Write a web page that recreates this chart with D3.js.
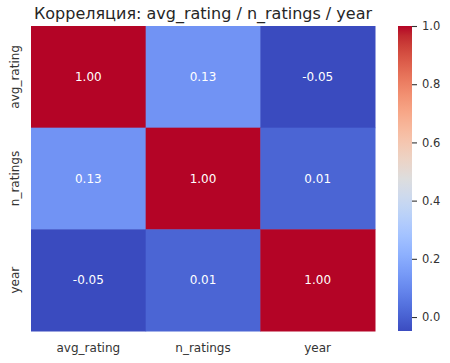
<!DOCTYPE html>
<html>
<head>
<meta charset="utf-8">
<script src="https://cdn.jsdelivr.net/npm/d3@7"></script>
<style>
  body { margin: 0; background: #fff; }
  svg { font-family: "DejaVu Sans", sans-serif; }
</style>
</head>
<body>
<svg width="450" height="363"></svg>
<script>
var variables = ["avg_rating", "n_ratings", "year"]
var corrRows = [
    [1.00, 0.13, -0.05],
    [0.13, 1.00, 0.01],
    [-0.05, 0.01, 1.00]
]
var colorbarTicks = [0.0, 0.2, 0.4, 0.6, 0.8, 1.0]
var title = "Корреляция: avg_rating / n_ratings / year"

// matplotlib coolwarm control points
var coolwarm = [
    [59,76,192],[68,90,204],[77,104,215],[87,117,225],[98,130,234],[108,142,241],
    [119,154,247],[130,165,251],[141,176,254],[152,185,255],[163,194,255],[174,201,253],
    [184,208,249],[194,213,244],[204,217,238],[213,219,230],[221,221,221],[229,216,209],
    [236,211,197],[241,204,185],[245,196,173],[247,187,160],[247,177,148],[247,166,135],
    [244,154,123],[241,141,111],[236,127,99],[229,112,88],[222,96,77],[213,80,66],
    [203,62,56],[192,40,47],[180,4,38]
].map(c => d3.rgb(c[0], c[1], c[2]).toString())

var vmin = -0.048, vmax = 1.0
var color = d3.scaleSequential(d3.piecewise(d3.interpolateRgb, coolwarm)).domain([vmin, vmax])

var margin = { left: 31, top: 26, right: 75, bottom: 32 }
var width = 375 - margin.left,
    height = 331 - margin.top

var svg = d3.select("svg")

svg.append("text")
    .attr("x", 203)
    .attr("y", 19)
    .attr("text-anchor", "middle")
    .attr("font-size", 16)
    .attr("fill", "#262626")
    .text(title)

var g = svg.append("g").attr("transform", "translate(" + margin.left + "," + margin.top + ")")

var x = d3.scaleBand().domain(variables).range([0, width])
var y = d3.scaleBand().domain(variables).range([0, height])

var cells = []
corrRows.forEach(function(row, i) {
    row.forEach(function(v, j) {
        cells.push({ row: variables[i], col: variables[j], value: v })
    })
})

g.selectAll(".cell").data(cells).enter().append("rect")
    .attr("class", "cell")
    .attr("x", d => x(d.col))
    .attr("y", d => y(d.row))
    .attr("width", x.bandwidth() + 0.5)
    .attr("height", y.bandwidth() + 0.5)
    .attr("fill", d => color(d.value))

g.selectAll(".annot").data(cells).enter().append("text")
    .attr("class", "annot")
    .attr("x", d => x(d.col) + x.bandwidth() / 2)
    .attr("y", d => y(d.row) + y.bandwidth() / 2)
    .attr("dy", "0.35em")
    .attr("text-anchor", "middle")
    .attr("font-size", 12)
    .attr("fill", "#fff")
    .text(d => d.value.toFixed(2))

// x labels
g.selectAll(".xlab").data(variables).enter().append("text")
    .attr("x", d => x(d) + x.bandwidth() / 2)
    .attr("y", height + 21)
    .attr("text-anchor", "middle")
    .attr("font-size", 12)
    .attr("fill", "#333")
    .text(d => d)

// y labels
g.selectAll(".ylab").data(variables).enter().append("text")
    .attr("transform", d => "translate(-12," + (y(d) + y.bandwidth() / 2) + ") rotate(-90)")
    .attr("text-anchor", "middle")
    .attr("font-size", 12)
    .attr("fill", "#333")
    .text(d => d)

// colorbar
var cbX = 398, cbW = 14
var cbScale = d3.scaleLinear().domain([vmin, vmax]).range([331, 26])
var defs = svg.append("defs")
var grad = defs.append("linearGradient").attr("id", "cb")
    .attr("x1", 0).attr("y1", 1).attr("x2", 0).attr("y2", 0)
grad.selectAll("stop").data(coolwarm).enter().append("stop")
    .attr("offset", (d, i) => i / (coolwarm.length - 1))
    .attr("stop-color", d => d)

svg.append("rect")
    .attr("x", cbX).attr("y", 26)
    .attr("width", cbW).attr("height", 331 - 26)
    .attr("fill", "url(#cb)")

var cbAxis = d3.axisRight(cbScale).tickValues(colorbarTicks).tickFormat(d3.format(".1f")).tickSize(5).tickPadding(5)
var cbg = svg.append("g").attr("transform", "translate(" + (cbX + cbW) + ",0)").call(cbAxis)
cbg.select(".domain").remove()
cbg.selectAll("line").attr("stroke", "#333").attr("stroke-width", 1.1)
cbg.selectAll("text").attr("font-size", 11.5).attr("fill", "#333").attr("font-family", "DejaVu Sans")
</script>
</body>
</html>
